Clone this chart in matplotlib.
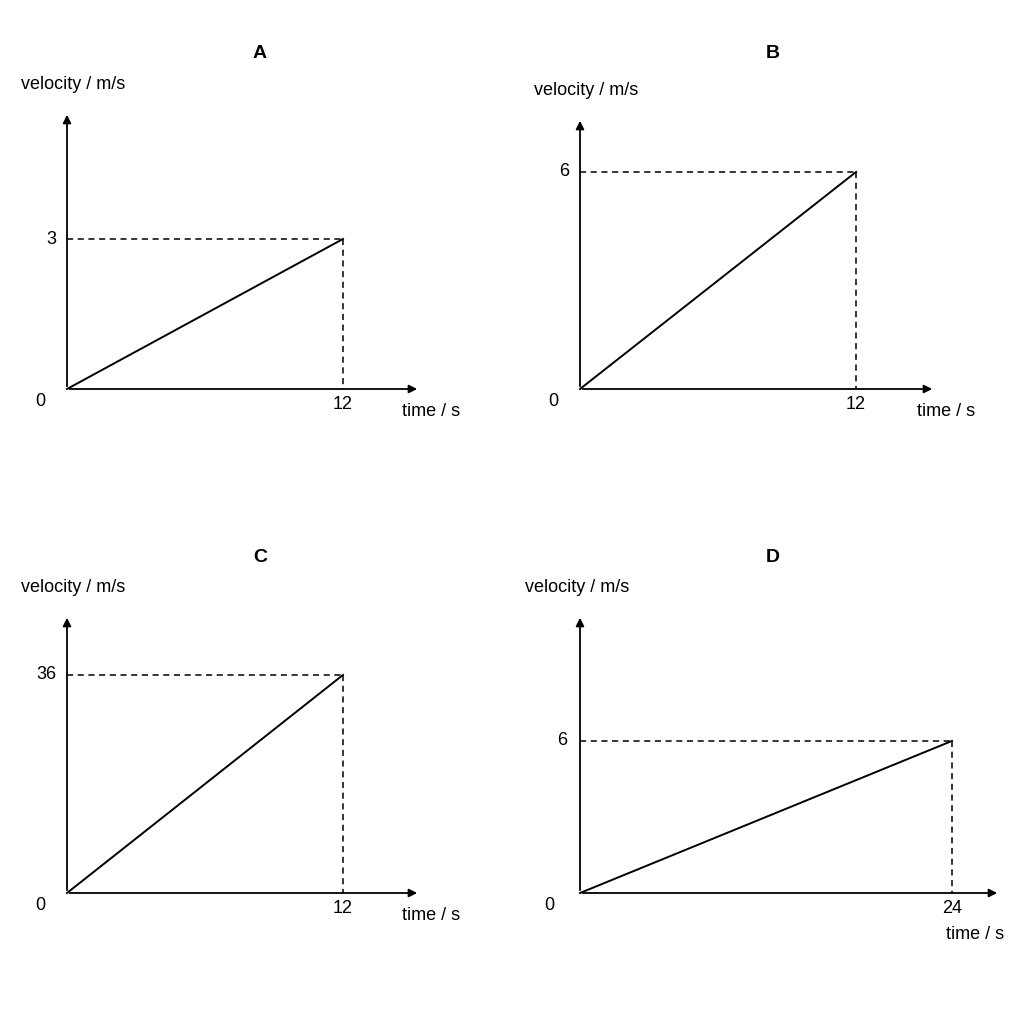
import matplotlib
matplotlib.use("Agg")
import matplotlib.pyplot as plt
import matplotlib.transforms as mtrans

plt.rcParams['font.family'] = ['Liberation Sans', 'DejaVu Sans']

titles = ["A", "B", "C", "D"]
t_end = [12, 12, 12, 24]
v_end = [3, 6, 36, 6]
xmax = [15.35, 15.43, 15.35, 27.1]
ymax = [5.54, 7.49, 45.9, 10.97]
# layout in pixels: origin x, origin y, x-arrow length, y-arrow length
layout = [(67, 389, 353, 277), (580, 389, 355, 271), (67, 893, 353, 278), (580, 893, 420, 278)]

W = 1024
fig = plt.figure(figsize=(10.24, 10.24), dpi=100)
for i in range(4):
    x0, y0, lx, ly = layout[i]
    ax = fig.add_axes([x0 / W, (W - y0) / W, lx / W, ly / W])
    ax.set_xlim(0, xmax[i]); ax.set_ylim(0, ymax[i])
    ax.axis('off')
    ap = dict(arrowstyle='-|>', color='black', lw=1.3, mutation_scale=12)
    ax.annotate('', xy=(1, 0), xytext=(0, 0), xycoords='axes fraction', arrowprops=ap)
    ax.annotate('', xy=(0, 1), xytext=(0, 0), xycoords='axes fraction', arrowprops=ap)
    T, V = t_end[i], v_end[i]
    ax.plot([0, T], [0, V], color='black', lw=1.4, clip_on=False)
    ax.plot([0, T], [V, V], color='black', lw=1.1, ls=(0, (4, 3)), clip_on=False)
    ax.plot([T, T], [V, 0], color='black', lw=1.1, ls=(0, (4, 3)), clip_on=False)
    fs = 13
    ax.text(-0.06, -0.015, "0", transform=ax.transAxes, ha='right', va='top', fontsize=fs)
    ax.text(T, -0.025 * ymax[i], str(T), ha='center', va='top', fontsize=fs)
    ax.text(-0.03 * xmax[i], V, str(V), ha='right', va='center', fontsize=fs)
    ax.text(-0.13, 1.1, "velocity / m/s", transform=ax.transAxes, ha='left', va='center', fontsize=fs)
    if i == 3:
        ax.text(T - 0.4, -0.12, "time / s", transform=mtrans.blended_transform_factory(ax.transData, ax.transAxes),
                ha='left', va='top', fontsize=fs)
    else:
        ax.text(0.95, -0.05, "time / s", transform=ax.transAxes, ha='left', va='top', fontsize=fs)
    fig.text((x0 + 193) / W, (W - y0 + 335) / W, titles[i], ha='center', va='center',
             fontsize=14, fontweight='bold')

fig.savefig("out.png", dpi=100, facecolor='white')
